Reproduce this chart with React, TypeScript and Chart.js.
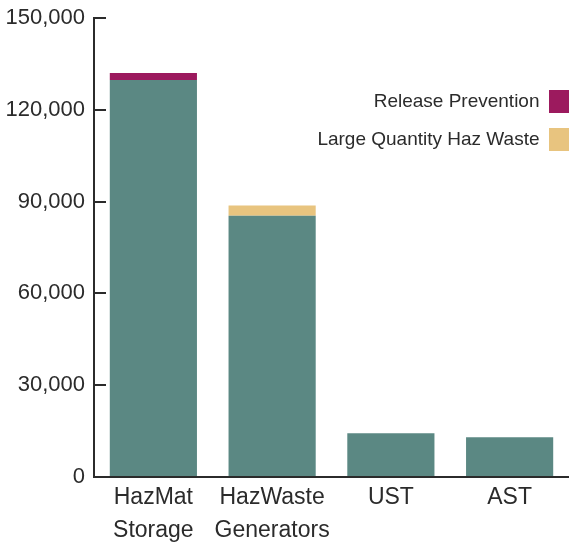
import React, { useEffect, useRef } from "react";
import { Chart, registerables } from "chart.js";

Chart.register(...registerables);

const categories: string[][] = [["HazMat", "Storage"], ["HazWaste", "Generators"], ["UST"], ["AST"]];
const baseValues: number[] = [129700, 85400, 14300, 13000];
const largeQuantityHazWaste: number[] = [0, 3300, 0, 0];
const releasePrevention: number[] = [2300, 0, 0, 0];
const yTicks: number[] = [0, 30000, 60000, 90000, 120000, 150000];

const TEAL = "#5b8883";
const TAN = "#e8c47f";
const MAGENTA = "#9c1a5e";
const INK = "#2b2b2b";
const SANS = "'Liberation Sans', Arial, sans-serif";

const legendPlacer = {
  id: "legendPlacer",
  afterLayout(chart: any) {
    const lg = chart.legend;
    if (!lg) return;
    const pad = lg.options.labels.padding;
    const right = chart.width + pad;
    lg.left = right - lg.width;
    lg.right = right;
    lg.top = 90 - pad;
    lg.bottom = lg.top + lg.height;
  },
};

export default function App() {
  const ref = useRef<HTMLCanvasElement | null>(null);
  useEffect(() => {
    if (!ref.current) return;
    const chart = new Chart(ref.current, {
      type: "bar",
      data: {
        labels: categories as any,
        datasets: [
          { label: "Base", data: baseValues, backgroundColor: TEAL, barPercentage: 0.734, categoryPercentage: 1 },
          { label: "Large Quantity Haz Waste", data: largeQuantityHazWaste, backgroundColor: TAN, barPercentage: 0.734, categoryPercentage: 1 },
          { label: "Release Prevention", data: releasePrevention, backgroundColor: MAGENTA, barPercentage: 0.734, categoryPercentage: 1 },
        ],
      },
      options: {
        animation: false,
        responsive: true,
        maintainAspectRatio: false,
        layout: { padding: { top: 18, left: 0, right: 0, bottom: 0 } },
        plugins: {
          tooltip: { enabled: false },
          legend: {
            position: "chartArea",
            fullSize: false,
            align: "start",
            rtl: true,
            reverse: true,
            labels: {
              boxWidth: 20,
              boxHeight: 23,
              padding: 15,
              textAlign: "left",
              color: INK,
              font: { family: SANS, size: 19 },
              filter: (item: any) => item.text !== "Base",
            },
          },
        },
        scales: {
          x: {
            stacked: true,
            grid: { display: false, drawTicks: false },
            border: { display: true, color: INK, width: 2 },
            ticks: {
              color: INK,
              padding: 4,
              autoSkip: false,
              maxRotation: 0,
              minRotation: 0,
              font: { family: SANS, size: 23, lineHeight: 1.45 },
            },
            afterFit: (s: any) => { s.height = 67; },
          },
          y: {
            stacked: true,
            min: yTicks[0],
            max: yTicks[yTicks.length - 1],
            afterBuildTicks: (s: any) => { s.ticks = yTicks.map((v) => ({ value: v })); },
            grid: { drawOnChartArea: false, drawTicks: true, tickLength: -12, color: INK, lineWidth: 2 },
            border: { display: true, color: INK, width: 2 },
            ticks: {
              color: INK,
              padding: 21,
              font: { family: SANS, size: 22 },
              callback: (v: any) => Number(v).toLocaleString("en-US"),
            },
            afterFit: (s: any) => { s.width = 94; s.paddingTop = 0; s.paddingBottom = 0; },
          },
        },
      },
      plugins: [legendPlacer],
    });
    return () => chart.destroy();
  }, []);
  return (
    <div style={{ position: "fixed", left: 0, top: 0, width: 569, height: 544, background: "#fff" }}>
      <canvas ref={ref} />
    </div>
  );
}
